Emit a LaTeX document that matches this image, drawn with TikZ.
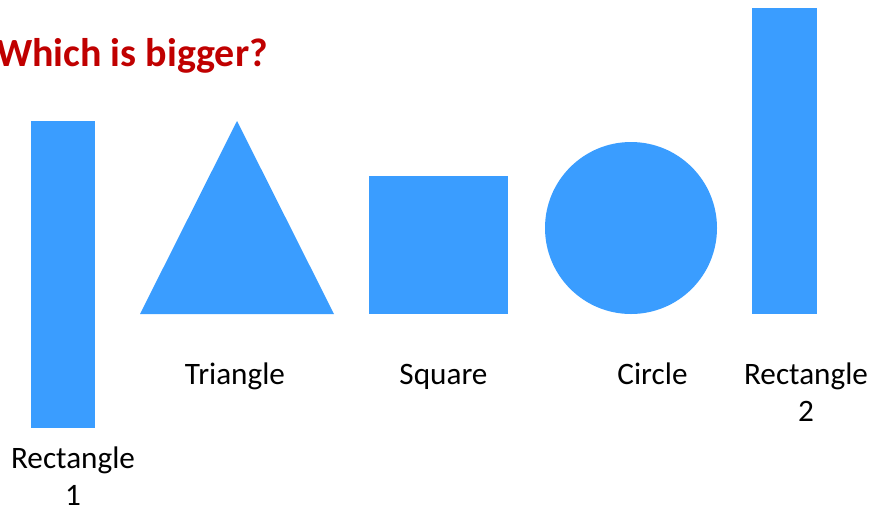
\documentclass[tikz,border=0pt]{standalone}
\usepackage{fontspec}
\setmainfont{Carlito}
\definecolor{shapeblue}{HTML}{3A9DFF}
\definecolor{titlered}{HTML}{C00000}
\begin{document}
\begin{tikzpicture}[x=1pt,y=-1pt,
  shapefill/.style={fill=shapeblue,draw=none},
  lbl/.style={inner sep=0pt,anchor=base,align=center,font=\fontsize{31.2}{37}\selectfont,text=black}]
\useasboundingbox (0,0) rectangle (873,512);
\begin{scope}
\clip (0,0) rectangle (873,512);
\node[inner sep=0pt,anchor=base east,text=titlered,font=\fontsize{40}{48}\selectfont\bfseries] (title) at (268,66) {Which is bigger?};
\end{scope}
\fill[shapefill] (31,121) rectangle (95,428);
\fill[shapefill] (140,314) -- (237,121) -- (334,314) -- cycle;
\fill[shapefill] (369,176) rectangle (508,314);
\fill[shapefill] (631,228) circle[radius=86];
\fill[shapefill] (752,8) rectangle (817,314);
\node[lbl] (t) at (235,384) {Triangle};
\node[lbl] (s) at (443.5,384) {Square};
\node[lbl] (c) at (652.5,384) {Circle};
\node[lbl] (r2) at (806,421) {Rectangle\\2};
\node[lbl] (r1) at (73,505) {Rectangle\\1};
\end{tikzpicture}
\end{document}
